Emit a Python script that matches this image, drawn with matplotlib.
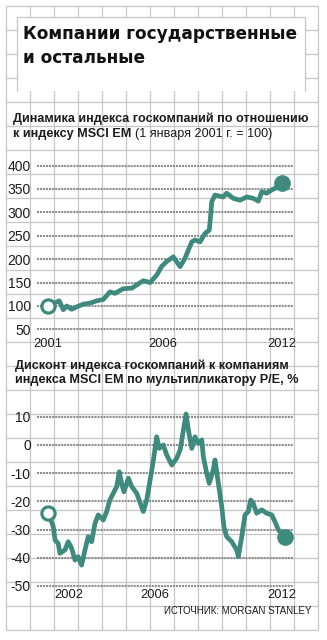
import matplotlib
matplotlib.use("Agg")
import matplotlib.pyplot as plt
from matplotlib.patches import Rectangle

# ---- data -------------------------------------------------------------
# State-company index relative to MSCI EM (1 Jan 2001 = 100)
ratio_years = [2001.00, 2001.53, 2001.72, 2001.88, 2002.11, 2002.35, 2002.66,
               2002.97, 2003.29, 2003.60, 2003.91, 2004.15, 2004.54, 2004.94,
               2005.17, 2005.48, 2005.80, 2006.11, 2006.35, 2006.58, 2006.89,
               2007.21, 2007.44, 2007.76, 2007.91, 2008.15, 2008.38, 2008.58,
               2008.62, 2008.70, 2008.85, 2009.24, 2009.40, 2009.71, 2010.03,
               2010.34, 2010.65, 2010.89, 2011.05, 2011.28, 2011.52, 2011.83,
               2012.00]
ratio_values = [100, 111, 92, 100, 93, 98, 104,
                106, 111, 114, 130, 127, 137, 138,
                145, 154, 150, 166, 185, 195, 205,
                184, 202, 237, 241, 237, 255, 262,
                280, 323, 337, 333, 341, 330, 326,
                333, 330, 324, 344, 341, 348, 355,
                362]
ratio_yticks = [50, 100, 150, 200, 250, 300, 350, 400]
ratio_xticks = [2001, 2006.4, 2012]
ratio_xlabels = ["2001", "2006", "2012"]

# P/E discount of state companies vs MSCI EM, %
pe_years = [2001.01, 2001.25, 2001.33, 2001.48, 2001.56, 2001.80, 2001.95,
            2002.11, 2002.27, 2002.42, 2002.58, 2002.74, 2002.89, 2003.05,
            2003.21, 2003.36, 2003.60, 2003.76, 2003.91, 2004.07, 2004.23,
            2004.35, 2004.46, 2004.57, 2004.78, 2004.94, 2005.17, 2005.48,
            2005.64, 2005.88, 2005.98, 2006.11, 2006.23, 2006.42, 2006.58,
            2006.82, 2007.05, 2007.21, 2007.29, 2007.49, 2007.60, 2007.76,
            2007.91, 2008.07, 2008.23, 2008.30, 2008.46, 2008.58, 2008.77,
            2008.85, 2009.01, 2009.17, 2009.27, 2009.40, 2009.64, 2009.87,
            2009.95, 2010.11, 2010.26, 2010.42, 2010.53, 2010.65, 2010.81,
            2011.05, 2011.28, 2011.52, 2011.67, 2011.83, 2012.14]
pe_values = [-24, -29, -33.7, -34.9, -38.4, -37.2, -34.3,
             -36.6, -40.8, -39.6, -42.6, -37.2, -32.5, -34.3,
             -27.8, -24.8, -26.6, -23.6, -19.5, -17.1, -14.8,
             -9.5, -13.6, -16.6, -11.8, -14.8, -17.1, -23.6,
             -19.5, -8.9, -4.1, 2.9, -1.2, 0, -3.5,
             -7.1, -4.7, -1.8, 1.8, 11, 5.3, -1.2,
             2.9, 0.6, 1.8, -4.1, -10, -13.6, -8.9,
             -5.3, -13.6, -21.9, -29, -32.5, -34.3, -37.2,
             -39.6, -32.5, -24.8, -23.6, -19.5, -20.7, -24.2,
             -23, -24.2, -24.8, -27.2, -30.1, -32.5]
pe_yticks = [-50, -40, -30, -20, -10, 0, 10]
pe_xticks = [2002, 2006, 2012]
pe_xlabels = ["2002", "2006", "2012"]

# ---- style ------------------------------------------------------------
W, H, DPI = 327, 640, 100
TEAL = "#3f8a7f"
PAPER = "#c6c6c6"
DOTS = "#8e8e8e"
INK = "#1c1c1c"

plt.rcParams["font.family"] = ["Liberation Sans", "DejaVu Sans"]
plt.rcParams["axes.unicode_minus"] = False

fig = plt.figure(figsize=(W / DPI, H / DPI), dpi=DPI)
fig.patch.set_facecolor("white")
renderer = fig.canvas.get_renderer()


def px_rect(left, top, right, bottom):
    return [left / W, 1 - bottom / H, (right - left) / W, (bottom - top) / H]


def fit_width(txt, target):
    for _ in range(4):
        w = txt.get_window_extent(renderer).width
        txt.set_fontsize(txt.get_fontsize() * target / w)


# ---- squared-paper background and heading box -------------------------
bg = fig.add_axes([0, 0, 1, 1], zorder=0)
bg.set_xlim(0, W)
bg.set_ylim(H, 0)
bg.axis("off")
for gx in range(6, 319, 24):
    bg.plot([gx, gx], [6, 630], color=PAPER, lw=0.9, solid_capstyle="butt")
for gy in range(6, 631, 24):
    bg.plot([6, 318], [gy, gy], color=PAPER, lw=0.9, solid_capstyle="butt")
bg.add_patch(Rectangle((17, 17), 288, 74, facecolor="white",
                       edgecolor="none", zorder=2))
bg.plot([17, 17, 305, 305], [91, 17, 17, 91], color=PAPER, lw=0.9, zorder=3)

t1 = bg.text(23, 39, "Компании государственные", family="DejaVu Sans",
             weight="bold", fontsize=11, color="#111111", va="baseline",
             zorder=4)
fit_width(t1, 274)
bg.text(23, 63, "и остальные", family="DejaVu Sans", weight="bold",
        fontsize=t1.get_fontsize(), color="#111111", va="baseline", zorder=4)

# chart headings
s1 = bg.text(13, 122, "Динамика индекса госкомпаний по отношению",
             weight="bold", fontsize=9, color=INK, va="baseline", zorder=4)
fit_width(s1, 297)
s1b = bg.text(13, 137, "к индексу MSCI EM ", weight="bold",
              fontsize=s1.get_fontsize(), color=INK, va="baseline", zorder=4)
x_after = bg.transData.inverted().transform(
    (s1b.get_window_extent(renderer).x1, 0))[0]
bg.text(x_after, 137, "(1 января 2001 г. = 100)",
        fontsize=s1.get_fontsize(), color=INK, va="baseline", zorder=4)

s2 = bg.text(15, 369, "Дисконт индекса госкомпаний к компаниям",
             weight="bold", fontsize=9, color=INK, va="baseline", zorder=4)
fit_width(s2, 274)
bg.text(15, 383, "индекса MSCI EM по мультипликатору P/E, %", weight="bold",
        fontsize=s2.get_fontsize(), color=INK, va="baseline", zorder=4)

src = bg.text(311, 614, "ИСТОЧНИК: MORGAN STANLEY",
              family=["Liberation Sans Narrow", "Liberation Sans"],
              fontsize=9, color=INK, va="baseline", ha="right", zorder=4)
fit_width(src, 149)

# ---- charts -----------------------------------------------------------
XLIM = (2000.483, 2012.518)


def style_chart(ax, yticks, xticks, xlabels, xpad):
    ax.patch.set_alpha(0)
    for s in ax.spines.values():
        s.set_visible(False)
    for v in yticks:
        ax.axhline(v, color=DOTS, lw=1.5, ls=(0, (1.0, 0.45)), zorder=1,
                   clip_on=False)
    ax.set_yticks(yticks)
    ax.set_yticklabels([str(v) for v in yticks])
    ax.set_xticks(xticks)
    ax.set_xticklabels(xlabels)
    ax.tick_params(axis="y", length=0, labelsize=10, pad=4.5, colors=INK)
    ax.tick_params(axis="x", length=0, labelsize=9.3, pad=xpad, colors=INK)


def draw_series(ax, xs, ys):
    ax.plot(xs, ys, color=TEAL, lw=3.4, solid_joinstyle="round",
            solid_capstyle="round", zorder=3, clip_on=False)
    ax.plot(xs[0], ys[0], "o", ms=9.5, mfc="white", mec=TEAL, mew=2.3,
            zorder=4, clip_on=False)
    ax.plot(xs[-1], ys[-1], "o", ms=11, color=TEAL, zorder=4, clip_on=False)


ax1 = fig.add_axes(px_rect(37, 155, 293, 335), zorder=1)
ax1.set_xlim(*XLIM)
ax1.set_ylim(38, 422.6)
style_chart(ax1, ratio_yticks, ratio_xticks, ratio_xlabels, xpad=2)
draw_series(ax1, ratio_years, ratio_values)

ax2 = fig.add_axes(px_rect(37, 405, 293, 588), zorder=1)
ax2.set_xlim(*XLIM)
ax2.set_ylim(-50.71, 14.18)
style_chart(ax2, pe_yticks, pe_xticks, pe_xlabels, xpad=1)
draw_series(ax2, pe_years, pe_values)

fig.savefig("out.png", dpi=DPI, facecolor="white")
